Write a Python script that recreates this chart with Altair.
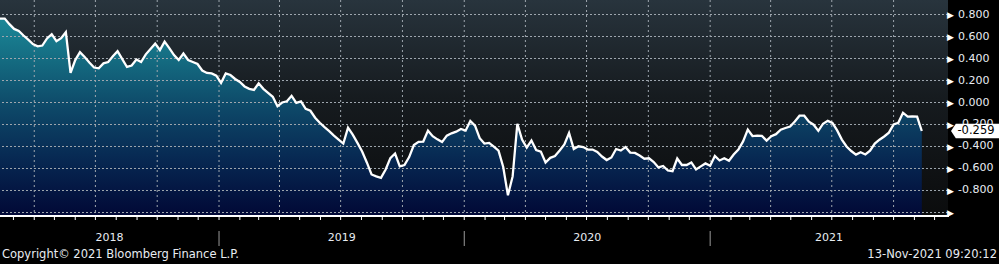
import altair as alt
import pandas as pd

# ---------------- data ----------------
start_date = "2018-02-09"
axis_end = "2021-12-21"
values = [
    0.763, 0.763, 0.712, 0.669, 0.651, 0.609, 0.571, 0.531, 0.511, 0.518,
    0.582, 0.621, 0.558, 0.585, 0.639, 0.269, 0.386, 0.458, 0.413, 0.363,
    0.318, 0.311, 0.356, 0.368, 0.420, 0.467, 0.395, 0.323, 0.336, 0.391,
    0.368, 0.438, 0.486, 0.535, 0.477, 0.553, 0.495, 0.431, 0.386, 0.445,
    0.386, 0.368, 0.350, 0.291, 0.269, 0.264, 0.244, 0.178, 0.264, 0.250,
    0.214, 0.187, 0.146, 0.124, 0.115, 0.174, 0.124, 0.088, 0.052, -0.034,
    0.000, 0.011, 0.061, -0.003, 0.011, -0.057, -0.075, -0.138, -0.184, -0.224,
    -0.260, -0.301, -0.337, -0.373, -0.229, -0.292, -0.367, -0.446, -0.545, -0.654,
    -0.672, -0.685, -0.609, -0.505, -0.464, -0.581, -0.568, -0.496, -0.387, -0.358,
    -0.355, -0.256, -0.306, -0.335, -0.360, -0.301, -0.280, -0.265, -0.241, -0.256,
    -0.168, -0.211, -0.324, -0.373, -0.367, -0.401, -0.437, -0.586, -0.844, -0.672,
    -0.193, -0.337, -0.410, -0.346, -0.432, -0.446, -0.545, -0.503, -0.486, -0.437,
    -0.382, -0.278, -0.423, -0.398, -0.405, -0.428, -0.428, -0.450, -0.491, -0.523,
    -0.500, -0.423, -0.437, -0.405, -0.455, -0.458, -0.482, -0.511, -0.507, -0.541,
    -0.590, -0.577, -0.618, -0.624, -0.509, -0.568, -0.568, -0.545, -0.609, -0.581,
    -0.554, -0.575, -0.486, -0.527, -0.507, -0.530, -0.473, -0.428, -0.354, -0.247,
    -0.305, -0.301, -0.304, -0.346, -0.306, -0.288, -0.247, -0.232, -0.219, -0.172,
    -0.120, -0.120, -0.174, -0.202, -0.258, -0.193, -0.167, -0.185, -0.254, -0.337,
    -0.400, -0.441, -0.474, -0.452, -0.472, -0.438, -0.374, -0.338, -0.309, -0.274,
    -0.199, -0.184, -0.093, -0.129, -0.126, -0.129, -0.259,
]
dates = pd.date_range(start_date, periods=len(values), freq="7D").strftime("%Y-%m-%d")

grid_values = [-1.0, -0.8, -0.6, -0.4, -0.2, 0.0, 0.2, 0.4, 0.6, 0.8]
tick_values = [round(-1.0 + 0.1 * i, 1) for i in range(20)]
quarter_dates = [f"{y}-{m:02d}-01" for y in range(2018, 2022) for m in (1, 4, 7, 10)
                 if f"{y}-{m:02d}-01" > start_date]
month_dates = [f"{y}-{m:02d}-01" for y in range(2018, 2022) for m in range(1, 13)
               if start_date < f"{y}-{m:02d}-01" <= axis_end]
years = ["2018", "2019", "2020", "2021"]
year_breaks = ["2019-01-01", "2020-01-01", "2021-01-01"]
copyright_text = "Copyright\u00a9 2021 Bloomberg Finance L.P."
stamp_text = "13-Nov-2021 09:20:12"

# ---------------- layout ----------------
W, H = 948, 216
FONT = "DejaVu Sans"
GRID = "#9ea6ae"
Y_MIN, Y_MAX = -1.03182, 0.93182
df = pd.DataFrame({"date": dates, "value": values})
last = pd.DataFrame({"lv": [values[-1]], "label": [f"{values[-1]:.3f}"]})

d0, d1 = pd.Timestamp(start_date), pd.Timestamp(axis_end)
mids = []
for y in years:
    a = max(pd.Timestamp(f"{y}-01-01"), d0)
    b = min(pd.Timestamp(f"{int(y)+1}-01-01"), d1)
    mids.append((a + (b - a) / 2).strftime("%Y-%m-%dT%H:%M:%S"))
year_df = pd.DataFrame({"ydate": mids, "year": years})
arrow_df = pd.DataFrame({"av": grid_values, "atxt": ["\u25b6"] * len(grid_values)})
label_df = pd.DataFrame({"lbv": [g for g in grid_values if g > -0.95],
                         "txt": [f"{g:.3f}" for g in grid_values if g > -0.95]})
hgrid_df = pd.DataFrame({"hv": grid_values,
                         "hn": [f"g{i}" for i in range(len(grid_values))]})


def ms(s):
    return int(pd.Timestamp(s).value // 10**6)


xscale = alt.Scale(type="utc", domain=[ms(start_date), ms(axis_end)], nice=False)
yscale = alt.Scale(domain=[Y_MIN, Y_MAX], nice=False, zero=False)

yaxis = alt.Axis(orient="right", values=tick_values, title=None, grid=False,
                 domainColor="white", domainWidth=1.5, tickColor="white",
                 tickSize=4, tickWidth=1, labels=False)

bg_grad = alt.Gradient(gradient="linear", x1=0, y1=0, x2=0, y2=1, stops=[
    alt.GradientStop(color="#28343d", offset=0),
    alt.GradientStop(color="#161b1f", offset=0.45),
    alt.GradientStop(color="#0b0c0d", offset=1),
])
area_grad = alt.Gradient(gradient="linear", x1=0, y1=0, x2=0, y2=1, stops=[
    alt.GradientStop(color="#1b8898", offset=0),
    alt.GradientStop(color="#146a80", offset=0.22),
    alt.GradientStop(color="#0e4b6a", offset=0.43),
    alt.GradientStop(color="#082c55", offset=0.68),
    alt.GradientStop(color="#010836", offset=1),
])

one = pd.DataFrame({"a": [0]})

bg = alt.Chart(one).mark_rect(fill=bg_grad).encode(
    x=alt.value(0), x2=alt.value(W), y=alt.value(0), y2=alt.value(H))

area = alt.Chart(df).mark_area(fill=area_grad, opacity=1).encode(
    x=alt.X("date:T", scale=xscale, axis=None),
    y=alt.Y("value:Q", scale=yscale, axis=yaxis, stack=None),
    y2=alt.datum(Y_MIN))

vgrid = alt.Chart(pd.DataFrame({"qd": quarter_dates})).mark_rule(
    color=GRID, strokeDash=[2, 3], strokeWidth=1).encode(
    x=alt.X("qd:T", scale=xscale, axis=None), y=alt.value(0), y2=alt.value(H))

hgrid = alt.Chart(hgrid_df).mark_rule(
    color=GRID, strokeDash=[2, 2], strokeWidth=1, opacity=1).encode(
    y=alt.Y("hv:Q", scale=yscale, axis=None))

line = alt.Chart(df).mark_line(color="white", strokeWidth=2.3).encode(
    x=alt.X("date:T", scale=xscale, axis=None),
    y=alt.Y("value:Q", scale=yscale, axis=None))

xdomain = alt.Chart(one).mark_rect(color="white").encode(
    x=alt.value(0), x2=alt.value(W + 1), y=alt.value(H - 1), y2=alt.value(H + 1))

mticks = alt.Chart(pd.DataFrame({"md": month_dates})).mark_rule(
    color="white", strokeWidth=1).encode(
    x=alt.X("md:T", scale=xscale, axis=None), y=alt.value(H), y2=alt.value(H + 4))

ylabels = alt.Chart(label_df).mark_text(
    font=FONT, fontSize=11, color="#e8ecf2", align="left", baseline="middle").encode(
    x=alt.value(W + 10), y=alt.Y("lbv:Q", scale=yscale, axis=None), text="txt:N")

arrows = alt.Chart(arrow_df).mark_text(
    font=FONT, fontSize=9, color="white", align="left", baseline="middle", dx=-1,
    dy=0.5).encode(
    x=alt.value(W), y=alt.Y("av:Q", scale=yscale, axis=None), text="atxt:N")

box = alt.Chart(last).mark_point(
    shape="M-1,0L-0.8,-0.3L1,-0.3L1,0.3L-0.8,0.3Z", filled=True, color="white",
    opacity=1, size=2304).encode(
    x=alt.value(975), y=alt.Y("lv:Q", scale=yscale, axis=None))

box_text = alt.Chart(last).mark_text(
    font=FONT, fontSize=11.5, color="black", align="center", baseline="middle").encode(
    x=alt.value(976), y=alt.Y("lv:Q", scale=yscale, axis=None), text="label:N")

year_text = alt.Chart(year_df).mark_text(
    font=FONT, fontSize=11, color="#e8ecf2", align="center", baseline="middle").encode(
    x=alt.X("ydate:T", scale=xscale, axis=None), y=alt.value(238), text="year:N")

seps = alt.Chart(pd.DataFrame({"bd": year_breaks})).mark_rule(
    color="#9a9a9a", strokeWidth=1).encode(
    x=alt.X("bd:T", scale=xscale, axis=None), y=alt.value(231), y2=alt.value(246))

copy_t = alt.Chart(pd.DataFrame({"t": [copyright_text]})).mark_text(
    font=FONT, fontSize=11.5, color="#e8ecf2", align="left", baseline="middle").encode(
    x=alt.value(2), y=alt.value(255), text="t:N")

stamp_t = alt.Chart(pd.DataFrame({"s": [stamp_text]})).mark_text(
    font=FONT, fontSize=11.5, color="#e8ecf2", align="right", baseline="middle").encode(
    x=alt.value(997), y=alt.value(255), text="s:N")

chart = alt.layer(
    bg, area, vgrid, hgrid, line, xdomain, mticks, ylabels, arrows, box, box_text,
    year_text, seps, copy_t, stamp_t
).properties(
    width=W, height=H, autosize="none", background="black",
    padding={"left": 0, "top": 0, "right": 999 - W, "bottom": 264 - H},
).configure_view(stroke=None)

chart.save("out.html", embed_options={"renderer": "svg", "actions": False})
